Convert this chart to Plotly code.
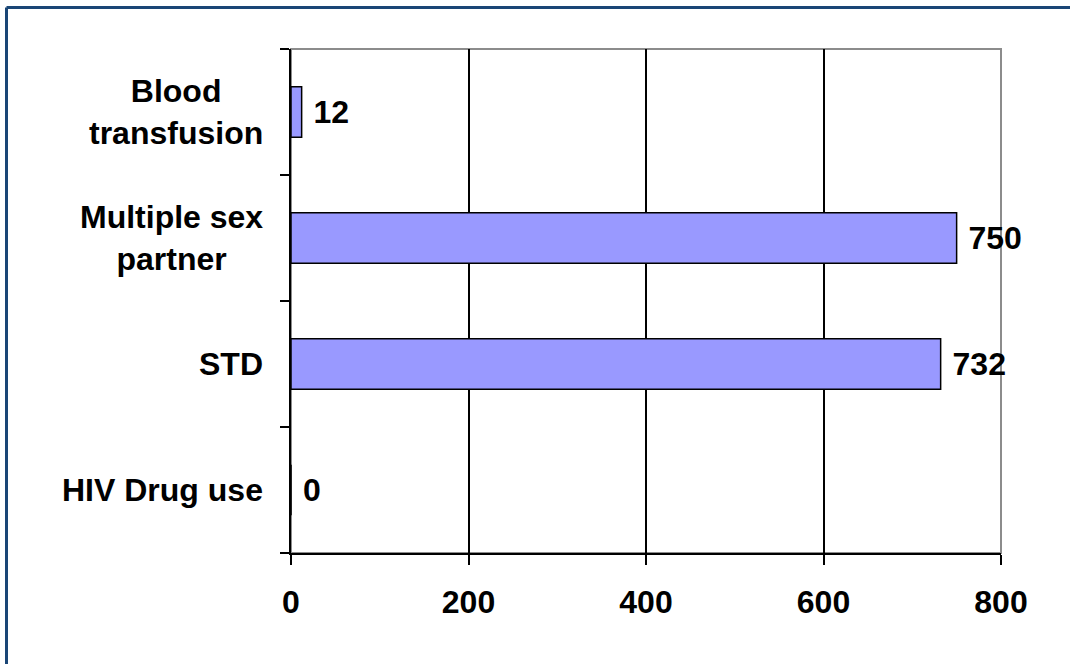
import plotly.graph_objects as go

# Risk factors (bottom to top) and counts
categories = ["HIV Drug use", "STD", "Multiple sex partner", "Blood transfusion"]
category_labels = ["HIV Drug use", "STD", "Multiple sex<br>partner", "Blood<br>transfusion"]
counts = [0, 732, 750, 12]
x_ticks = [0, 200, 400, 600, 800]
grid_values = [200, 400, 600]

W, H = 1070, 664
L, R, T, B = 291, 69, 49, 111
pw, ph = W - L - R, H - T - B

FONT = "Arial, Liberation Sans, sans-serif"
BIG = 32

fig = go.Figure()
fig.add_trace(go.Bar(
    x=counts,
    y=categories,
    orientation="h",
    width=0.4,
    marker=dict(color="#9999FF", line=dict(color="black", width=1.5)),
    texttemplate=" %{x}",
    textposition="outside",
    constraintext="none",
    cliponaxis=False,
    textfont=dict(family=FONT, size=BIG, color="black", weight="bold"),
    xaxis="x",
    yaxis="y",
    showlegend=False,
    hoverinfo="x+y",
))

# Category labels, centred line by line
annotations = []
for cat, lab in zip(categories, category_labels):
    annotations.append(dict(
        x=0, xref="paper", y=cat, yref="y",
        text=lab, showarrow=False, xanchor="right", yanchor="middle",
        align="center", xshift=-26,
        font=dict(family=FONT, size=BIG, color="black", weight="bold"),
    ))

frame_left = (6.5 - L) / pw
frame_top = (H - B - 7.5) / ph
shapes = [
    # grey plot-area frame
    dict(type="rect", xref="paper", yref="paper", x0=0, x1=1, y0=0, y1=1,
         line=dict(color="#8C8C8C", width=2), layer="below"),
    # outer frame (left and top edges)
    dict(type="line", xref="paper", yref="paper",
         x0=frame_left, x1=frame_left, y0=(H - B - 700) / ph, y1=frame_top,
         line=dict(color="#1A4676", width=3)),
    dict(type="line", xref="paper", yref="paper",
         x0=frame_left, x1=(1100 - L) / pw, y0=frame_top, y1=frame_top,
         line=dict(color="#1A4676", width=3)),
]

fig.update_layout(
    width=W, height=H,
    margin=dict(l=L, r=R, t=T, b=B),
    paper_bgcolor="white",
    plot_bgcolor="white",
    bargap=0.6,
    font=dict(family=FONT, color="black"),
    xaxis=dict(
        range=[0, 800],
        tickvals=x_ticks,
        ticktext=[str(v) for v in x_ticks],
        showgrid=False,
        zeroline=False,
        showline=True, linecolor="black", linewidth=2,
        ticks="outside", ticklen=10, tickwidth=2, tickcolor="black",
        ticklabelstandoff=10,
        tickfont=dict(family=FONT, size=BIG, color="black", weight="bold"),
    ),
    xaxis2=dict(
        range=[0, 800],
        overlaying="x",
        tickvals=grid_values,
        showticklabels=False,
        showgrid=True, gridcolor="black", gridwidth=2,
        zeroline=False, showline=False, ticks="",
    ),
    yaxis=dict(
        type="category",
        categoryorder="array",
        categoryarray=categories,
        range=[-0.5, 3.5],
        showticklabels=False,
        showgrid=False,
        showline=True, linecolor="black", linewidth=2,
        ticks="outside", tickson="boundaries", ticklen=9, tickwidth=2, tickcolor="black",
    ),
    annotations=annotations,
    shapes=shapes,
)

# invisible trace to activate the grid axis
fig.add_trace(go.Scatter(x=[None], y=[None], xaxis="x2", yaxis="y",
                         showlegend=False, hoverinfo="skip"))

fig.write_html("out.html")
